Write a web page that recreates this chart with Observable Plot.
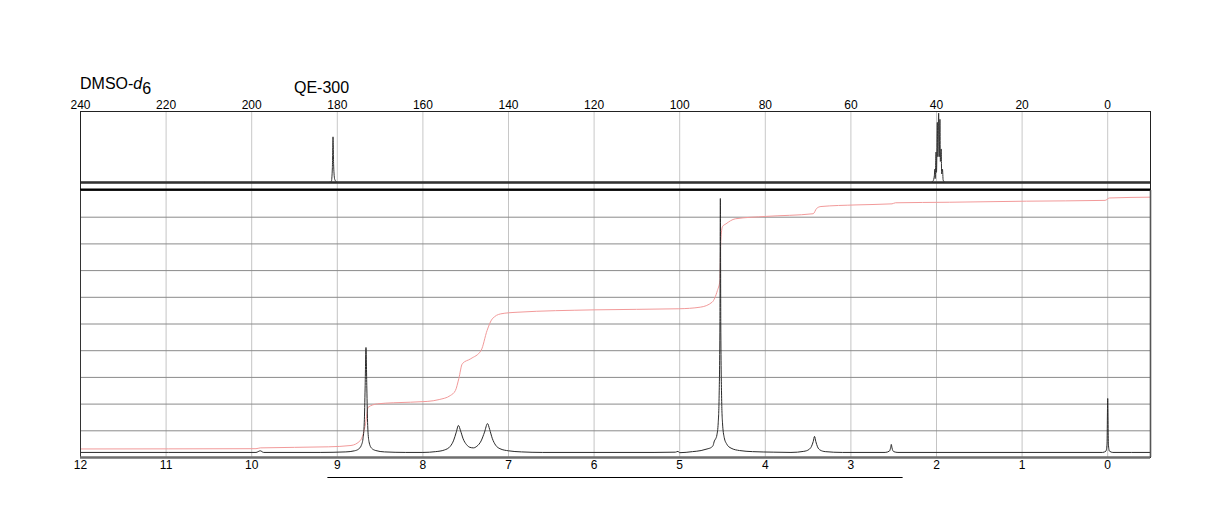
<!DOCTYPE html>
<html><head><meta charset="utf-8">
<script src="https://cdn.jsdelivr.net/npm/d3@7"></script>
<script src="https://cdn.jsdelivr.net/npm/@observablehq/plot@0.6"></script>
<style>
body{margin:0;background:#fff;}
#wrap{position:relative;width:1224px;height:528px;overflow:hidden;font-family:"Liberation Sans",Arial,sans-serif;background:#fff;}
.t{position:absolute;font-size:16px;line-height:16px;color:#000;white-space:nowrap;}
#c13{position:absolute;left:0;top:90px;}
#h1{position:absolute;left:0;top:189px;}
</style></head><body>
<div id="wrap">
<div class="t" style="left:80px;top:76px">DMSO-<i>d</i><span style="position:relative;top:5px">6</span></div>
<div class="t" style="left:294px;top:80px">QE-300</div>
<div id="h1"></div>
<div id="c13"></div>
</div>
<script>
// ---- 13C spectrum (ppm, relative intensity) ----
const cTicks = [240, 220, 200, 180, 160, 140, 120, 100, 80, 60, 40, 20, 0];
const cBaseline = [0.09];
const cShift = [240, 182.0, 181.4, 181.15, 181.0, 180.85, 180.6, 180.0, 41.4, 40.8, 40.5, 40.4, 40.3, 40.1, 40.0, 39.8, 39.7, 39.5, 39.35, 39.2, 39.1, 38.9, 38.8, 38.6, 38.45, 38.0, -10];
const cInt   = [0.09, 0.09, 0.10, 0.28, 0.675, 0.30, 0.13, 0.09, 0.09, 0.11, 0.18, 0.26, 0.14, 0.48, 0.22, 0.86, 0.42, 0.98, 0.42, 0.90, 0.36, 0.52, 0.20, 0.26, 0.12, 0.09, 0.09];

// ---- 1H spectrum (ppm, intensity in grid units) ----
const hTicks = [12, 11, 10, 9, 8, 7, 6, 5, 4, 3, 2, 1, 0];
const hGrid  = [1, 2, 3, 4, 5, 6, 7, 8, 9];
const hShift = [12, 9.95, 9.9, 9.86, 9.2, 8.9, 8.80, 8.75, 8.72, 8.70, 8.685, 8.675, 8.665, 8.655, 8.645, 8.63, 8.60, 8.55, 8.45, 8.2,
  8.0, 7.85, 7.75, 7.68, 7.64, 7.61, 7.585, 7.56, 7.53, 7.49, 7.45, 7.41, 7.37, 7.32, 7.28, 7.245, 7.22, 7.19, 7.15, 7.10, 7.0, 6.85, 6.6,
  5.3, 5.05, 5.02, 5.0, 4.85, 4.75, 4.68, 4.63, 4.61, 4.595, 4.58, 4.565, 4.55, 4.54, 4.53, 4.525, 4.52, 4.51, 4.50, 4.48, 4.45, 4.40, 4.3, 4.15, 3.9,
  3.7, 3.55, 3.49, 3.46, 3.44, 3.425, 3.41, 3.39, 3.36, 3.3, 3.1,
  2.6, 2.55, 2.535, 2.528, 2.52, 2.5, 2.45,
  0.06, 0.02, 0.008, 0.0, -0.008, -0.02, -0.06, -0.5];
const hInt = [0.19, 0.19, 0.25, 0.19, 0.19, 0.21, 0.25, 0.32, 0.45, 0.7, 1.3, 2.6, 4.12, 2.6, 1.2, 0.6, 0.35, 0.26, 0.21, 0.19,
  0.19, 0.22, 0.28, 0.42, 0.65, 0.95, 1.2, 1.0, 0.7, 0.48, 0.38, 0.36, 0.42, 0.62, 0.95, 1.27, 1.05, 0.72, 0.46, 0.33, 0.25, 0.21, 0.19,
  0.19, 0.2, 0.23, 0.18, 0.22, 0.26, 0.32, 0.38, 0.45, 0.62, 0.7, 0.85, 1.3, 2.2, 5.0, 9.7, 5.0, 2.2, 1.3, 0.75, 0.5, 0.35, 0.26, 0.22, 0.2,
  0.19, 0.23, 0.3, 0.42, 0.6, 0.79, 0.6, 0.4, 0.28, 0.22, 0.19,
  0.19, 0.24, 0.38, 0.49, 0.36, 0.22, 0.19,
  0.19, 0.24, 0.5, 2.21, 0.5, 0.24, 0.19, 0.19];

// ---- 1H integral curve ----
const iShift = [12, 9.95, 9.9, 9.1, 8.84, 8.73, 8.67, 8.64, 8.53, 8.34, 7.95, 7.81, 7.68, 7.62, 7.58, 7.54, 7.44, 7.32, 7.25, 7.19, 7.09, 6.90, 6.0, 5.01, 4.76, 4.62, 4.56, 4.53, 4.52, 4.50, 4.46, 4.35, 3.99, 3.44, 3.40, 3.35, 2.94, 2.52, 2.48, 1.85, 0.95, 0.03, -0.02, -0.5];
const iVal   = [0.32, 0.33, 0.36, 0.40, 0.45, 0.64, 1.27, 1.88, 2.01, 2.05, 2.10, 2.17, 2.32, 2.51, 2.96, 3.51, 3.70, 4.01, 4.76, 5.19, 5.38, 5.44, 5.53, 5.57, 5.63, 5.82, 6.25, 6.63, 8.13, 8.65, 8.75, 8.94, 9.03, 9.13, 9.33, 9.40, 9.46, 9.50, 9.54, 9.56, 9.60, 9.63, 9.72, 9.75];

// ---- range bar under the 1H axis (ppm) ----
const rangeBar = [9.11, 2.39];

const font = '"Liberation Sans", Arial, sans-serif';

const c13 = Plot.plot({
  width: 1224, height: 100,
  marginLeft: 80, marginRight: 74, marginTop: 21, marginBottom: 1,
  x: {domain: [240, -10]},
  y: {domain: [0, 1], axis: null},
  style: {fontFamily: font, fontSize: "12px", background: "transparent", overflow: "visible", color: "#000"},
  marks: [
    Plot.gridX(cTicks, {stroke: "#c8c8c8", strokeOpacity: 1}),
    Plot.ruleY(cBaseline, {stroke: "#2a2a2a", strokeWidth: 2.4}),
    Plot.line(d3.range(cShift.length), {x: i => cShift[i], y: i => cInt[i], stroke: "#333", strokeWidth: 1, curve: "monotone-x"}),
    Plot.frame({stroke: "#222"}),
    Plot.ruleY([0], {stroke: "#000", strokeWidth: 2.2}),
    Plot.axisX(cTicks, {anchor: "top", tickSize: 0, tickPadding: 3, fontSize: 12, fill: "#000"})
  ]
});
document.getElementById("c13").appendChild(c13);

const h1 = Plot.plot({
  width: 1224, height: 339,
  marginLeft: 80, marginRight: 74, marginTop: 1, marginBottom: 71,
  x: {domain: [12, -0.5]},
  y: {domain: [0, 10], axis: null},
  style: {fontFamily: font, fontSize: "12px", background: "transparent", overflow: "visible", color: "#000"},
  marks: [
    Plot.gridX(hTicks, {stroke: "#c4c4c4", strokeOpacity: 1}),
    Plot.gridY(hGrid, {stroke: "#8a8a8a", strokeOpacity: 1}),
    Plot.line(d3.range(iShift.length), {x: i => iShift[i], y: i => iVal[i], stroke: "#f29a9a", strokeWidth: 1, curve: "monotone-x"}),
    Plot.line(d3.range(hShift.length), {x: i => hShift[i], y: i => hInt[i], stroke: "#2a2a2a", strokeWidth: 1, curve: "monotone-x"}),
    Plot.frame({stroke: "#333"}),
    Plot.ruleY([0], {stroke: "#6e6e6e", strokeWidth: 2.4}),
    Plot.ruleX([-0.5], {stroke: "#555", strokeWidth: 1.6}),
    Plot.ruleY([0], {x1: rangeBar[0], x2: rangeBar[1], dy: 20, stroke: "#000", strokeWidth: 1.2}),
    Plot.axisX(hTicks, {anchor: "bottom", tickSize: 0, tickPadding: 3, fontSize: 12, fill: "#000"})
  ]
});
document.getElementById("h1").appendChild(h1);
</script>
</body></html>
